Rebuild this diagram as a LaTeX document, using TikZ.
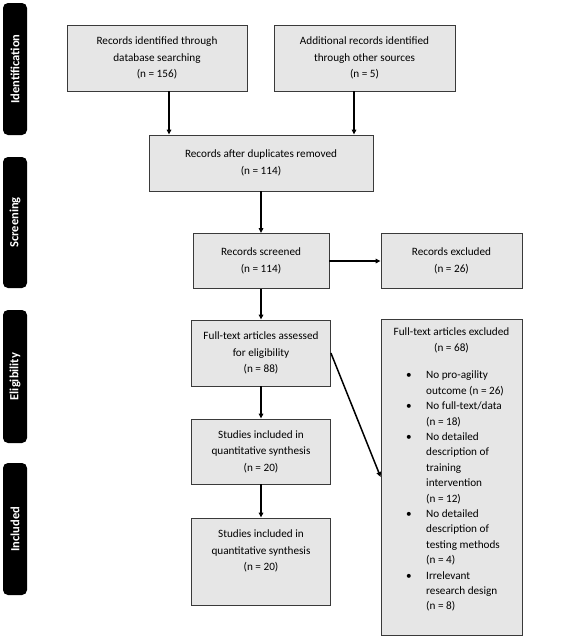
\documentclass[tikz,border=0pt]{standalone}
\usepackage{fontspec}
\setmainfont{Carlito}
\usetikzlibrary{arrows.meta}

\definecolor{boxfill}{HTML}{E6E6E6}
\definecolor{boxline}{HTML}{3A3A3A}
\newcommand{\boxfont}{\fontsize{11.2}{16.5}\selectfont}
\newcommand{\listfont}{\fontsize{11.2}{15.4}\selectfont}

\tikzset{
  box/.style={draw=boxline, fill=boxfill, line width=0.8pt, inner sep=2pt, align=center, font=\boxfont},
  flow/.style={-{Triangle[length=5pt,width=4.5pt]}, line width=1.5pt},
  phase/.style={fill=black, rounded corners=5pt, rotate=90, minimum height=24, inner sep=0pt,
    text=white, font=\bfseries\fontsize{12.5}{14}\selectfont}
}

\begin{document}
\begin{tikzpicture}[x=1pt, y=-1pt]
    \useasboundingbox (0,0) rectangle (576,637);

    % phases
    \node[phase, minimum width=132] (identification) at (15, 69) {Identification};
    \node[phase, minimum width=131] (screening) at (15, 222.5) {Screening};
    \node[phase, minimum width=133] (eligibility) at (15, 376.5) {Eligibility};
    \node[phase, minimum width=132] (included) at (15, 529) {Included};

    % boxes
    \node[box, minimum width=180, minimum height=66] (database) at (157, 58)
        {Records identified through\\ database searching\\ (n = 156)};
    \node[box, minimum width=181, minimum height=66] (other) at (364.5, 58)
        {Additional records identified\\ through other sources\\ (n = 5)};
    \node[box, minimum width=224, minimum height=56] (duplicates) at (261, 163)
        {Records after duplicates removed\\ (n = 114)};
    \node[box, minimum width=136, minimum height=55] (screened) at (261, 261)
        {Records screened\\ (n = 114)};
    \node[box, minimum width=141, minimum height=55] (recexcl) at (451.5, 261)
        {Records excluded\\ (n = 26)};
    \node[box, minimum width=139, minimum height=66] (fulltext) at (261, 353)
        {Full-text articles assessed\\ for eligibility\\ (n = 88)};
    \node[box, minimum width=139, minimum height=65] (synthesis) at (261, 451.5)
        {Studies included in\\ quantitative synthesis\\ (n = 20)};
    \node[box, minimum width=139, minimum height=87] (quantitative) at (261, 561.5) {};
    \node[font=\boxfont, align=center] (quanttext) at (261, 551)
        {Studies included in\\ quantitative synthesis\\ (n = 20)};

    \node[box, minimum width=141, minimum height=316] (fullexcl) at (451.5, 477) {};
    \node[font=\boxfont, anchor=north, inner sep=0pt] (fullhead) at (451.5, 323.5)
        {\begin{tabular}{@{}c@{}}Full-text articles excluded\\ (n = 68)\end{tabular}};
    \node[font=\listfont, anchor=north west, inner sep=0pt] (reasons) at (406, 368)
        {\begin{tabular}{@{}l@{}l@{}}
        \makebox[20pt][l]{\textbullet} & No pro-agility\\
         & outcome (n = 26)\\
        \makebox[20pt][l]{\textbullet} & No full-text/data\\
         & (n = 18)\\
        \makebox[20pt][l]{\textbullet} & No detailed\\
         & description of\\
         & training\\
         & intervention\\
         & (n = 12)\\
        \makebox[20pt][l]{\textbullet} & No detailed\\
         & description of\\
         & testing methods\\
         & (n = 4)\\
        \makebox[20pt][l]{\textbullet} & Irrelevant\\
         & research design\\
         & (n = 8)
        \end{tabular}};

    % arrows
    \draw[flow] ([xshift=12]database.south) -- ([xshift=12]database.south |- duplicates.north);
    \draw[flow] ([xshift=-10.5]other.south) -- ([xshift=-10.5]other.south |- duplicates.north);
    \draw[flow] (duplicates) -- (screened);
    \draw[flow] (screened) -- (recexcl);
    \draw[flow] (screened) -- (fulltext);
    \draw[flow] (fulltext.east) -- (fullexcl.west);
    \draw[flow] (fulltext) -- (synthesis);
    \draw[flow] (synthesis) -- (quantitative);
\end{tikzpicture}
\end{document}
